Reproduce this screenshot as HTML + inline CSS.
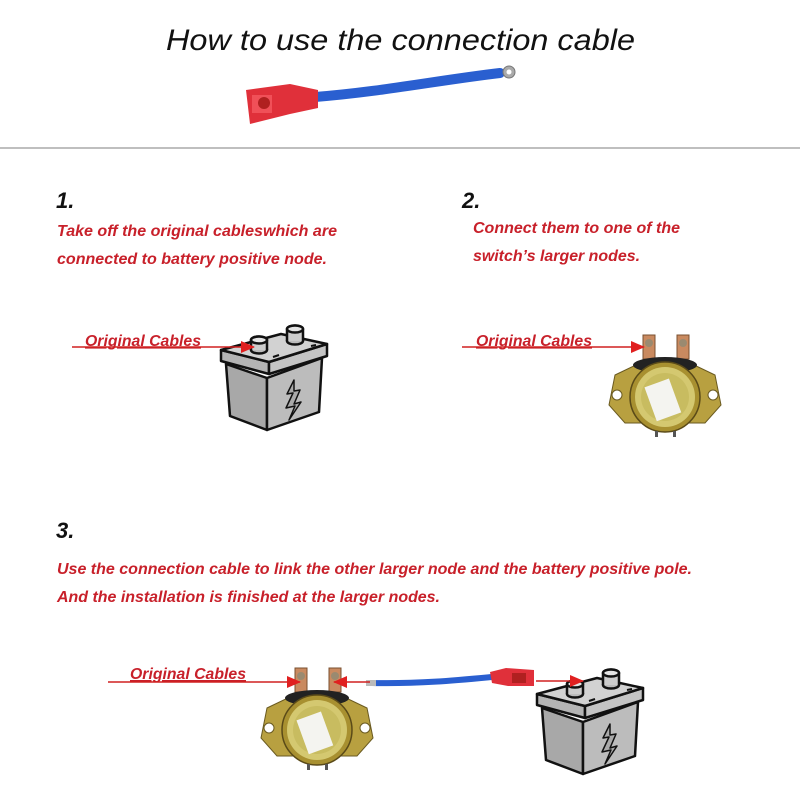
<!DOCTYPE html>
<html><head><meta charset="utf-8"><style>
html,body{margin:0;padding:0;background:#fff}
svg{display:block}
text{font-family:"Liberation Sans",Arial,sans-serif;font-weight:bold;font-style:italic}
.r{fill:#c8202a;font-size:16px}
.n{fill:#111;font-size:22px}
.lbl{fill:#c8202a;font-size:16px;text-decoration:underline}
</style></head><body>
<svg width="800" height="800" viewBox="0 0 800 800" xmlns="http://www.w3.org/2000/svg">
<defs>
<marker id="ah2" markerWidth="14" markerHeight="12" refX="13" refY="6" orient="auto" markerUnits="userSpaceOnUse">
<path d="M0,0 L14,6 L0,12 Z" fill="#e02020"/></marker>
<g id="bat" stroke="#111" stroke-width="2.5" stroke-linejoin="round">
<polygon points="5,44 46,58 46,110 9,96" fill="#a8a8a8"/>
<polygon points="46,58 101,38 98,92 46,110" fill="#bcbcbc"/>
<polygon points="0,30 48,42 48,54 0,41" fill="#b4b4b4"/>
<polygon points="48,42 106,24 106,36 48,54" fill="#c4c4c4"/>
<polygon points="0,30 60,14 106,24 48,42" fill="#d2d2d2"/>
<ellipse cx="38" cy="30" rx="8" ry="3.5" fill="#bbb"/>
<path d="M30,30 V20 A8,3.5 0 0 1 46,20 V30" fill="#ccc"/>
<ellipse cx="38" cy="20" rx="8" ry="3.5" fill="#e4e4e4"/>
<ellipse cx="74" cy="21" rx="8" ry="3.5" fill="#bbb"/>
<path d="M66,21 V9 A8,3.5 0 0 1 82,9 V21" fill="#ccc"/>
<ellipse cx="74" cy="9" rx="8" ry="3.5" fill="#e4e4e4"/>
<path d="M73,60 L66,74 L72,73 L65,88 L74,86 L68,100 L80,82 L73,84 L79,70 L73,71 Z" fill="#aaa" stroke-width="1.5"/>
<path d="M52,37 l6,-2 M90,26 l5,-1" stroke-width="2"/>
</g>
<g id="sol">
<rect x="-22" y="-62" width="12" height="24" fill="#c98a60" stroke="#7a5030" stroke-width="1"/>
<rect x="12" y="-62" width="12" height="24" fill="#c98a60" stroke="#7a5030" stroke-width="1"/>
<circle cx="-16" cy="-54" r="4" fill="#9a8a70"/><circle cx="18" cy="-54" r="4" fill="#9a8a70"/>
<path d="M-50,-22 L-25,-34 L25,-34 L50,-22 L56,8 L40,26 L-40,26 L-56,8 Z" fill="#b8a040" stroke="#6a5a20" stroke-width="1"/>
<circle cx="-48" cy="-2" r="5" fill="#fff" stroke="#6a5a20"/><circle cx="48" cy="-2" r="5" fill="#fff" stroke="#6a5a20"/>
<ellipse cx="0" cy="-32" rx="32" ry="8" fill="#222"/>
<circle cx="0" cy="0" r="35" fill="#a89030" stroke="#5a4a18" stroke-width="1.5"/>
<circle cx="0" cy="0" r="30" fill="#d4c870"/>
<circle cx="0" cy="0" r="24" fill="#c8bc60"/>
<rect x="-16" y="-16" width="26" height="36" fill="#f4f4f0" transform="rotate(-20)"/>
<rect x="-10" y="34" width="3" height="6" fill="#555"/><rect x="8" y="34" width="3" height="6" fill="#555"/>
</g>
</defs>

<text x="166" y="50" style="font-size:30px;font-weight:normal" fill="#111" textLength="469" lengthAdjust="spacingAndGlyphs">How to use the connection cable</text>
<path d="M315,97 C380,92 440,80 500,73" stroke="#2a5fd0" stroke-width="10" fill="none" stroke-linecap="round"/>
<circle cx="509" cy="72" r="6" fill="#aaa" stroke="#777"/><circle cx="509" cy="72" r="2.5" fill="#fff"/>
<path d="M246,90 L290,84 L318,90 L318,108 L290,114 L250,124 Z" fill="#e0303a"/>
<rect x="252" y="95" width="20" height="18" fill="#f05058"/><circle cx="264" cy="103" r="6" fill="#b02020"/>
<line x1="0" y1="148" x2="800" y2="148" stroke="#aaa" stroke-width="1.5"/>

<text x="56" y="208" class="n">1.</text>
<text x="57" y="236" class="r" textLength="280" lengthAdjust="spacingAndGlyphs">Take off the original cableswhich are</text>
<text x="57" y="264" class="r" textLength="270" lengthAdjust="spacingAndGlyphs">connected to battery positive node.</text>
<text x="462" y="208" class="n">2.</text>
<text x="473" y="233" class="r" textLength="207" lengthAdjust="spacingAndGlyphs">Connect them to one of the</text>
<text x="473" y="261" class="r" textLength="167" lengthAdjust="spacingAndGlyphs">switch’s larger nodes.</text>
<text x="56" y="538" class="n">3.</text>
<text x="57" y="574" class="r" textLength="635" lengthAdjust="spacingAndGlyphs">Use the connection cable to link the other larger node and the battery positive pole.</text>
<text x="57" y="602" class="r" textLength="383" lengthAdjust="spacingAndGlyphs">And the installation is finished at the larger nodes.</text>

<use href="#bat" x="221" y="320"/>
<text x="85" y="346" class="lbl" textLength="116" lengthAdjust="spacingAndGlyphs">Original Cables</text>
<line x1="72" y1="347" x2="254" y2="347" stroke="#d02020" stroke-width="1.5" marker-end="url(#ah2)"/>
<use href="#sol" x="665" y="397"/>
<text x="476" y="346" class="lbl" textLength="116" lengthAdjust="spacingAndGlyphs">Original Cables</text>
<line x1="462" y1="347" x2="644" y2="347" stroke="#d02020" stroke-width="1.5" marker-end="url(#ah2)"/>
<use href="#sol" x="317" y="730"/>
<use href="#bat" x="537" y="664"/>
<path d="M372,683 C420,684 460,680 492,677" stroke="#2a5fd0" stroke-width="6" fill="none"/>
<rect x="366" y="680" width="10" height="6" fill="#bbb"/>
<path d="M490,672 L506,668 L534,670 L534,686 L508,686 L492,683 Z" fill="#e0303a"/>
<rect x="512" y="673" width="14" height="10" fill="#b02020"/>
<text x="130" y="679" class="lbl" textLength="116" lengthAdjust="spacingAndGlyphs">Original Cables</text>
<line x1="108" y1="682" x2="300" y2="682" stroke="#d02020" stroke-width="1.5" marker-end="url(#ah2)"/>
<line x1="370" y1="682" x2="334" y2="682" stroke="#d02020" stroke-width="1.5" marker-end="url(#ah2)"/>
<line x1="536" y1="681" x2="583" y2="681" stroke="#d02020" stroke-width="1.5" marker-end="url(#ah2)"/>
</svg>
</body></html>
